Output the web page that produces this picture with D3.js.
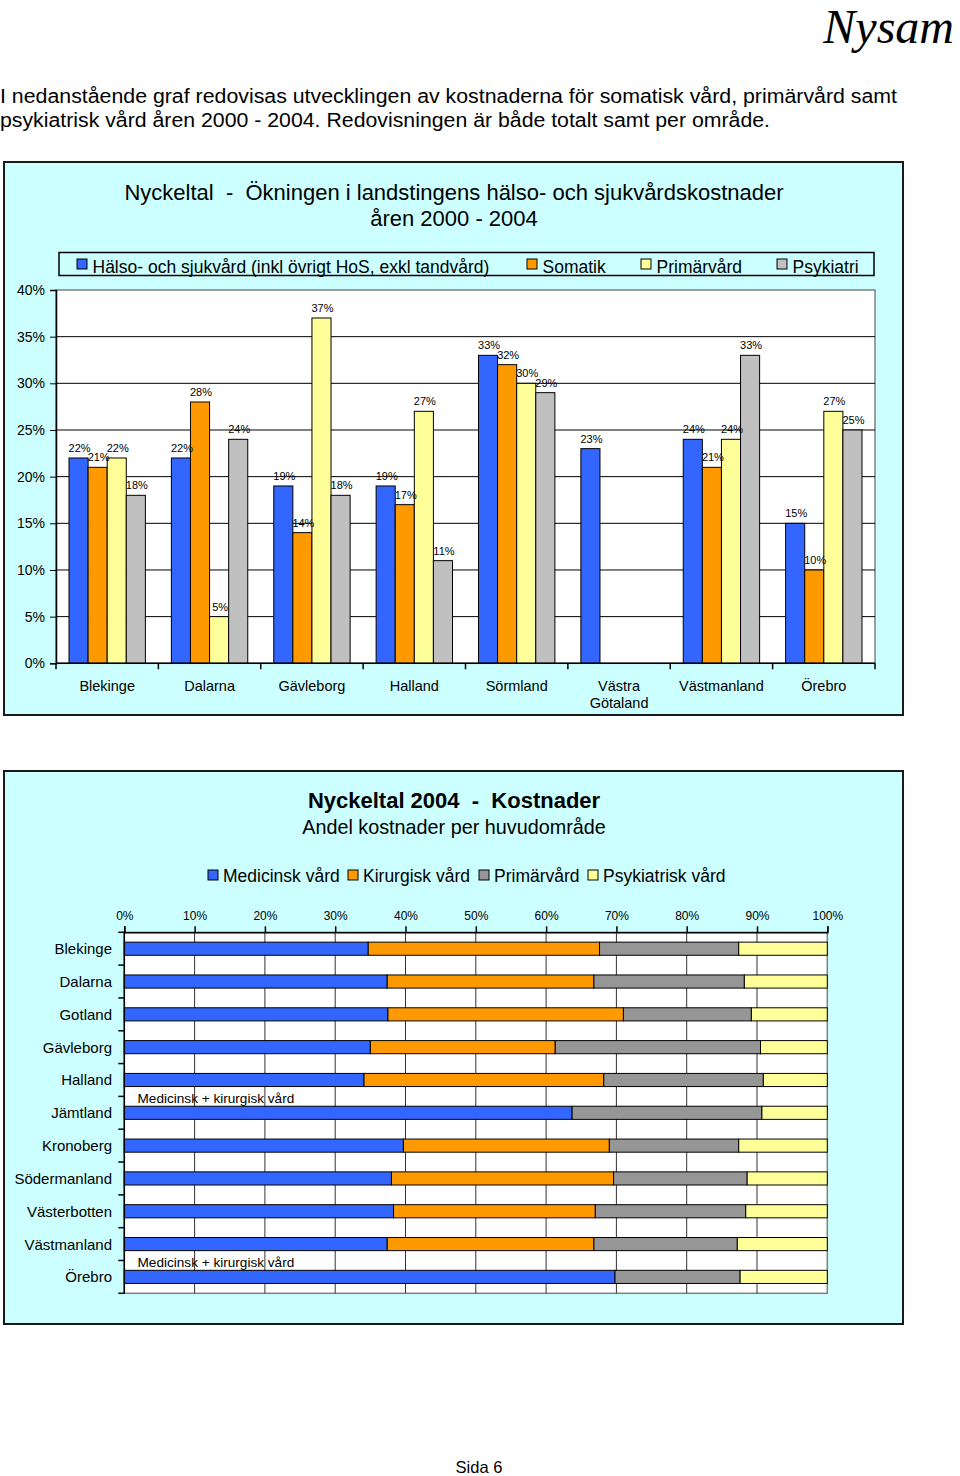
<!DOCTYPE html>
<html>
<head>
<meta charset="utf-8">
<script src="https://cdn.jsdelivr.net/npm/d3@7"></script>
<style>
  html, body { margin: 0; padding: 0; background: #fff; }
  svg { display: block; }
  text { font-family: "Liberation Sans", Arial, sans-serif; fill: #000; }
</style>
</head>
<body>
<div id="chart"></div>
<script>
// ---------- Data: top chart ----------
const regions1 = ["Blekinge", "Dalarna", "Gävleborg", "Halland", "Sörmland", "Västra Götaland", "Västmanland", "Örebro"];
const series1 = ["Hälso- och sjukvård (inkl övrigt HoS, exkl tandvård)", "Somatik", "Primärvård", "Psykiatri"];
const halsoSjukvard = [22, 22, 19, 19, 33, 23, 24, 15];
const somatik       = [21, 28, 14, 17, 32, null, 21, 10];
const primarvard1   = [22, 5, 37, 27, 30, null, 24, 27];
const psykiatri     = [18, 24, 18, 11, 29, null, 33, 25];
const yTicks1 = [0, 5, 10, 15, 20, 25, 30, 35, 40];

// ---------- Data: bottom chart ----------
const regions2 = ["Blekinge", "Dalarna", "Gotland", "Gävleborg", "Halland", "Jämtland", "Kronoberg", "Södermanland", "Västerbotten", "Västmanland", "Örebro"];
const series2 = ["Medicinsk vård", "Kirurgisk vård", "Primärvård", "Psykiatrisk vård"];
const medicinsk   = [34.7, 37.4, 37.5, 35.0, 34.1, 63.7, 39.7, 38.0, 38.3, 37.4, 69.8];
const kirurgisk   = [32.9, 29.4, 33.5, 26.3, 34.1, 0, 29.3, 31.6, 28.7, 29.4, 0];
const primarvard2 = [19.8, 21.4, 18.2, 29.2, 22.7, 27.0, 18.4, 19.0, 21.4, 20.4, 17.8];
const psykiatrisk = [12.6, 11.8, 10.8, 9.5, 9.1, 9.3, 12.6, 11.4, 11.6, 12.8, 12.4];
const combinedLabel = "Medicinsk + kirurgisk vård";
const combinedRegions = ["Jämtland", "Örebro"];
const xTicks2 = [0, 10, 20, 30, 40, 50, 60, 70, 80, 90, 100];

const colors1 = ["#3366FF", "#FF9900", "#FFFF99", "#C0C0C0"];
const colors2 = ["#3366FF", "#FF9900", "#969696", "#FFFF99"];
const bgCyan = "#CCFFFF";

const svg = d3.select("#chart").append("svg").attr("width", 960).attr("height", 1476);

// ---------- Page text ----------
svg.append("text").attr("x", 954).attr("y", 43).attr("text-anchor", "end")
  .style("font-family", "'Liberation Serif', 'Times New Roman', serif")
  .style("font-style", "italic").style("font-size", "48px").text("Nysam");

svg.append("text").attr("x", 0).attr("y", 103).style("font-size", "20px")
  .attr("textLength", 897).attr("lengthAdjust", "spacingAndGlyphs")
  .text("I nedanstående graf redovisas utvecklingen av kostnaderna för somatisk vård, primärvård samt");
svg.append("text").attr("x", 0).attr("y", 127).style("font-size", "20px")
  .attr("textLength", 770).attr("lengthAdjust", "spacingAndGlyphs")
  .text("psykiatrisk vård åren 2000 - 2004. Redovisningen är både totalt samt per område.");

svg.append("text").attr("x", 479).attr("y", 1473).attr("text-anchor", "middle")
  .style("font-size", "16.5px").text("Sida 6");

// ================= TOP CHART =================
const g1 = svg.append("g");
g1.append("rect").attr("x", 4).attr("y", 162).attr("width", 899).attr("height", 553)
  .attr("fill", bgCyan).attr("stroke", "#1a1a1a").attr("stroke-width", 2);

g1.append("text").attr("x", 454).attr("y", 200).attr("text-anchor", "middle")
  .style("font-size", "22px").attr("xml:space", "preserve")
  .text("Nyckeltal  -  Ökningen i landstingens hälso- och sjukvårdskostnader");
g1.append("text").attr("x", 454).attr("y", 226).attr("text-anchor", "middle")
  .style("font-size", "22px").text("åren 2000 - 2004");

// legend
g1.append("rect").attr("x", 59).attr("y", 252.5).attr("width", 815).attr("height", 23)
  .attr("fill", bgCyan).attr("stroke", "#000").attr("stroke-width", 1.5);
const leg1x = [77, 527, 641, 777];
series1.forEach((s, i) => {
  g1.append("rect").attr("x", leg1x[i]).attr("y", 259).attr("width", 10).attr("height", 10)
    .attr("fill", colors1[i]).attr("stroke", "#000").attr("stroke-width", 1);
  g1.append("text").attr("x", leg1x[i] + 15.5).attr("y", 273).style("font-size", "17.5px").text(s);
});

const plotL = 56, plotR = 875, plotT = 290, plotB = 663.3;
const x0 = d3.scaleBand().domain(regions1).range([plotL, plotR]).padding(0);
const bw = x0.bandwidth();
const x1 = d3.scaleBand().domain(series1).range([bw * 0.127, bw * 0.873]).padding(0);
const y1 = d3.scaleLinear().domain([0, 40]).range([plotB, plotT]);

g1.append("rect").attr("x", plotL).attr("y", plotT).attr("width", plotR - plotL).attr("height", plotB - plotT)
  .attr("fill", "#fff").attr("stroke", "#808080").attr("stroke-width", 1.5);

// gridlines
g1.append("g").selectAll("line").data(yTicks1.filter(t => t > 0 && t < 40)).join("line")
  .attr("x1", plotL).attr("x2", plotR).attr("y1", d => y1(d)).attr("y2", d => y1(d))
  .attr("stroke", "#000").attr("stroke-width", 1);

// bars
const seriesVals1 = [halsoSjukvard, somatik, primarvard1, psykiatri];
const barData1 = [];
regions1.forEach((r, ri) => {
  series1.forEach((s, si) => {
    const v = seriesVals1[si][ri];
    if (v !== null) barData1.push({ r, s, si, v });
  });
});
g1.append("g").selectAll("rect").data(barData1).join("rect")
  .attr("x", d => x0(d.r) + x1(d.s))
  .attr("y", d => y1(d.v))
  .attr("width", x1.bandwidth())
  .attr("height", d => y1(0) - y1(d.v))
  .attr("fill", d => colors1[d.si]).attr("stroke", "#000").attr("stroke-width", 1);

g1.append("g").selectAll("text").data(barData1).join("text")
  .attr("x", d => x0(d.r) + x1(d.s) + x1.bandwidth() / 2 + 1)
  .attr("y", d => y1(d.v) - 6)
  .attr("text-anchor", "middle").style("font-size", "11px")
  .text(d => d.v + "%");

// axes
const yAxis1 = d3.axisLeft(y1).tickValues(yTicks1).tickFormat(d => d + "%").tickSize(6).tickPadding(5);
const ya = g1.append("g").attr("transform", `translate(${plotL},0)`).call(yAxis1);
ya.select(".domain").attr("stroke", "#000").attr("stroke-width", 1.5);
ya.selectAll(".tick line").attr("stroke", "#000");
ya.selectAll(".tick text").style("font-size", "14px").style("font-family", "'Liberation Sans', Arial, sans-serif").attr("fill", "#000");

g1.append("line").attr("x1", plotL).attr("x2", plotR).attr("y1", plotB).attr("y2", plotB)
  .attr("stroke", "#000").attr("stroke-width", 1.5);
const bounds = regions1.map(r => x0(r)).concat([plotR]);
g1.append("g").selectAll("line").data(bounds).join("line")
  .attr("x1", d => d).attr("x2", d => d).attr("y1", plotB).attr("y2", plotB + 6)
  .attr("stroke", "#000").attr("stroke-width", 1.5);

g1.append("g").selectAll("text").data(regions1).join("text")
  .attr("x", d => x0(d) + bw / 2)
  .attr("y", 691)
  .attr("text-anchor", "middle").style("font-size", "14.5px")
  .each(function(d) {
    const parts = d === "Västra Götaland" ? ["Västra", "Götaland"] : [d];
    const t = d3.select(this);
    parts.forEach((p, i) => {
      t.append("tspan").attr("x", x0(d) + bw / 2).attr("dy", i === 0 ? 0 : 17).text(p);
    });
  });

// ================= BOTTOM CHART =================
const g2 = svg.append("g");
g2.append("rect").attr("x", 4).attr("y", 771).attr("width", 899).attr("height", 553)
  .attr("fill", bgCyan).attr("stroke", "#1a1a1a").attr("stroke-width", 2);

g2.append("text").attr("x", 454).attr("y", 808).attr("text-anchor", "middle")
  .style("font-size", "22px").style("font-weight", "bold").attr("xml:space", "preserve")
  .text("Nyckeltal 2004  -  Kostnader");
g2.append("text").attr("x", 454).attr("y", 834).attr("text-anchor", "middle")
  .style("font-size", "19.8px").text("Andel kostnader per huvudområde");

const leg2x = [208, 348, 479, 588];
series2.forEach((s, i) => {
  g2.append("rect").attr("x", leg2x[i]).attr("y", 870).attr("width", 10).attr("height", 10)
    .attr("fill", colors2[i]).attr("stroke", "#000").attr("stroke-width", 1);
  g2.append("text").attr("x", leg2x[i] + 15).attr("y", 882).style("font-size", "17.5px").text(s);
});

const p2L = 124.3, p2R = 827.3, p2T = 932.3, p2B = 1293.3;
const x2 = d3.scaleLinear().domain([0, 100]).range([p2L, p2R]);
const y2 = d3.scaleBand().domain(regions2).range([p2T, p2B]).paddingInner(0.6).paddingOuter(0.3);

g2.append("rect").attr("x", p2L).attr("y", p2T).attr("width", p2R - p2L).attr("height", p2B - p2T)
  .attr("fill", "#fff").attr("stroke", "#808080").attr("stroke-width", 1.5);

g2.append("g").selectAll("line").data(xTicks2.filter(t => t > 0 && t < 100)).join("line")
  .attr("x1", d => x2(d)).attr("x2", d => x2(d)).attr("y1", p2T).attr("y2", p2B)
  .attr("stroke", "#333").attr("stroke-width", 1);

const table2 = regions2.map((r, i) => ({
  region: r,
  "Medicinsk vård": medicinsk[i],
  "Kirurgisk vård": kirurgisk[i],
  "Primärvård": primarvard2[i],
  "Psykiatrisk vård": psykiatrisk[i]
}));
const stacked = d3.stack().keys(series2)(table2);
stacked.forEach((layer, li) => {
  g2.append("g").selectAll("rect").data(layer.filter(d => d[1] - d[0] > 0)).join("rect")
    .attr("x", d => x2(d[0]))
    .attr("y", d => y2(d.data.region))
    .attr("width", d => x2(d[1]) - x2(d[0]))
    .attr("height", y2.bandwidth())
    .attr("fill", colors2[li]).attr("stroke", "#000").attr("stroke-width", 1);
});

// annotations
combinedRegions.forEach(r => {
  g2.append("text").attr("x", 137.5).attr("y", y2(r) - 3.5).style("font-size", "13.6px").text(combinedLabel);
});

// axes
const xAxis2 = d3.axisTop(x2).tickValues(xTicks2).tickFormat(d => d + "%").tickSize(6).tickPadding(6);
const xa = g2.append("g").attr("transform", `translate(0,${p2T})`).call(xAxis2);
xa.select(".domain").attr("stroke", "#000").attr("stroke-width", 1.5);
xa.selectAll(".tick line").attr("stroke", "#000").attr("stroke-width", 1.5);
xa.selectAll(".tick text").style("font-size", "12px").style("font-family", "'Liberation Sans', Arial, sans-serif").attr("fill", "#000");

g2.append("line").attr("x1", p2L).attr("x2", p2L).attr("y1", p2T).attr("y2", p2B)
  .attr("stroke", "#000").attr("stroke-width", 1.5);
const step2 = y2.step();
const yb = regions2.map((r, i) => p2T + i * step2).concat([p2B]);
g2.append("g").selectAll("line").data(yb).join("line")
  .attr("x1", p2L - 6).attr("x2", p2L).attr("y1", d => d).attr("y2", d => d)
  .attr("stroke", "#000").attr("stroke-width", 1.5);
g2.append("g").selectAll("text").data(regions2).join("text")
  .attr("x", 112).attr("y", d => y2(d) + y2.bandwidth() / 2 + 5.5)
  .attr("text-anchor", "end").style("font-size", "15px").text(d => d);
</script>
</body>
</html>
